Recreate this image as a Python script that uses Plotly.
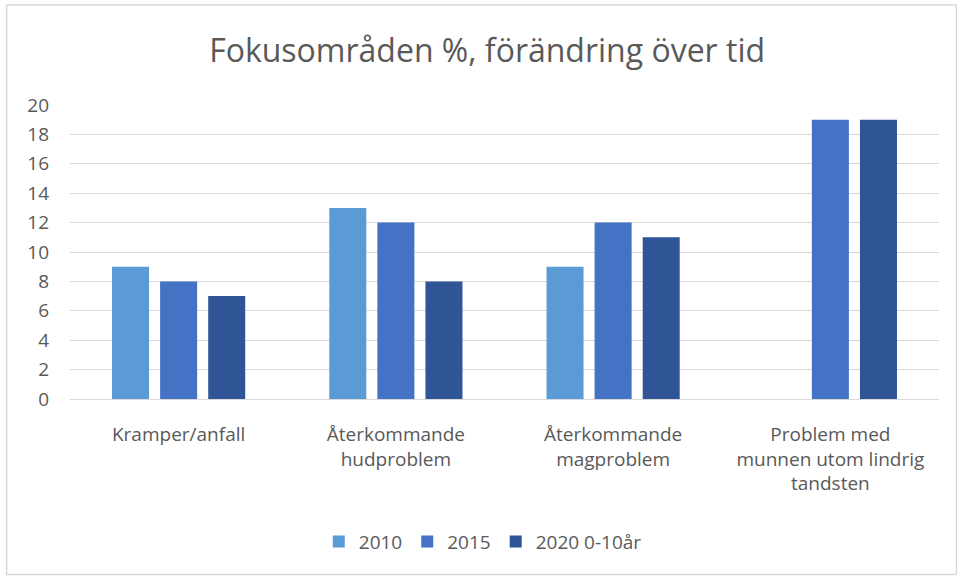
import plotly.graph_objects as go

categories = ["Kramper/anfall", "Återkommande<br>hudproblem", "Återkommande<br>magproblem",
              "Problem med<br>munnen utom lindrig<br>tandsten"]
series_names = ["2010", "2015", "2020 0-10år"]
values_2010 = [9, 13, 9, None]
values_2015 = [8, 12, 12, 19]
values_2020 = [7, 8, 11, 19]
colors = ["#5B9BD5", "#4472C4", "#2F5597"]

fig = go.Figure()
for name, vals, col in zip(series_names, [values_2010, values_2015, values_2020], colors):
    fig.add_trace(go.Bar(x=categories, y=vals, name=name, marker_color=col,
                         marker_line_width=0))

font = "Open Sans, sans-serif"
fig.update_layout(
    width=957, height=577,
    margin=dict(l=70, r=18, t=105, b=178),
    paper_bgcolor="white", plot_bgcolor="white",
    title=dict(text="Fokusområden %, förändring över tid", x=0.509, xanchor="center",
               y=0.912, yanchor="middle",
               font=dict(family=font, size=32, color="#595959")),
    font=dict(family=font, size=19, color="#595959"),
    barmode="group", bargap=0.336, bargroupgap=0.23,
    xaxis=dict(showgrid=False, showline=True, linecolor="#D9D9D9", ticks="",
               tickfont=dict(size=19), ticklabelstandoff=18),
    yaxis=dict(range=[0, 20], dtick=2, gridcolor="#D9D9D9", gridwidth=1,
               zeroline=False, showline=False, ticks="", tickfont=dict(size=19),
               ticklabelstandoff=20),
    legend=dict(orientation="h", x=0.475, xanchor="center", y=-0.485, yanchor="middle",
                font=dict(size=19), itemwidth=30, traceorder="normal"),
    shapes=[dict(type="rect", xref="paper", yref="paper",
                 x0=-0.073, x1=1.02, y0=-0.597, y1=1.34,
                 line=dict(color="#D9D9D9", width=1.5))],
)

# Remove the default page margin so the figure fills the window
fig.write_html("out.html", config={"displayModeBar": False},
               post_script="document.body.style.margin='0';")
